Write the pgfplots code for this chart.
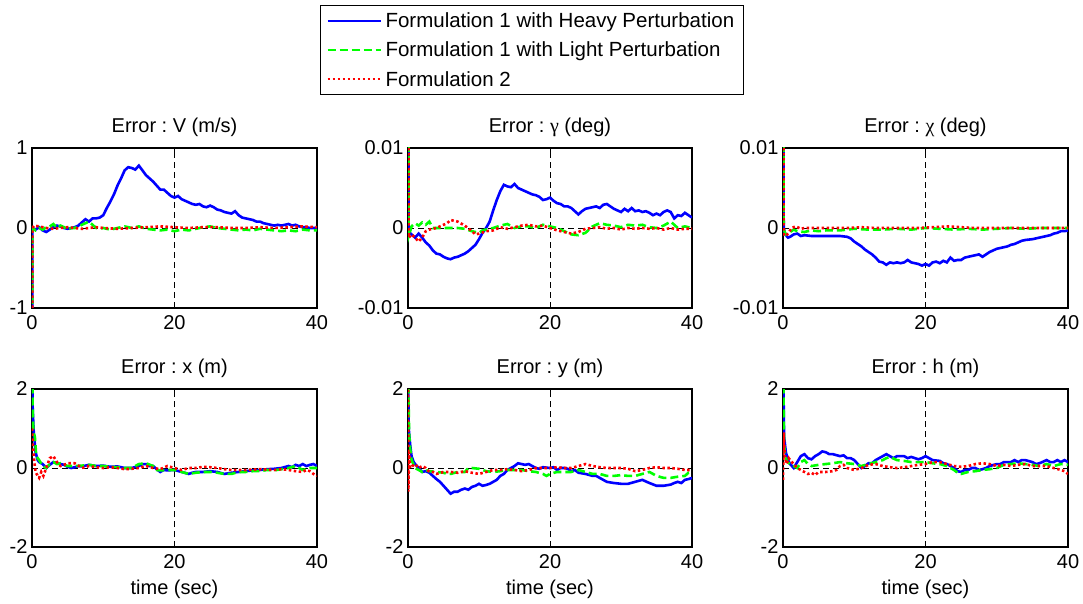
\documentclass[border=0pt]{standalone}
\usepackage{fontspec}
\setmainfont{Liberation Sans}
\newfontfamily\grk{Liberation Serif}
\usepackage{pgfplots}
\pgfplotsset{compat=1.18}
\frenchspacing
\definecolor{mblue}{RGB}{0,0,255}
\definecolor{mgreen}{RGB}{0,255,0}
\definecolor{mred}{RGB}{255,0,0}
\pgfplotsset{
  panel/.style={
    scale only axis, width=285pt, height=160pt, anchor=north west,
    xmin=0, xmax=40, xtick={0,20,40}, xticklabels={0,20,40},
    extra x ticks={20}, extra x tick labels={}, extra y ticks={0}, extra y tick labels={},
    extra tick style={grid=major, major tick length=0pt},
    major grid style={black, line width=0.6pt, dash pattern=on 6pt off 4pt},
    axis line style={black, line width=1.2pt},
    tick align=inside, major tick length=4pt, tick style={black, line width=0.6pt},
    /pgf/number format/assume math mode=true,
    ticklabel style={font=\fontsize{20}{22}\selectfont},
    xticklabel style={yshift=-4pt},
    yticklabel style={xshift=-1pt},
    title style={font=\fontsize{20}{22}\selectfont, at={(0.5,1)}, anchor=south, inner sep=0pt, yshift=5pt},
    label style={font=\fontsize{20}{22}\selectfont},
    xlabel style={yshift=-4pt},
    scaled y ticks=false,
  },
  hb/.style={mblue, solid, line width=2.6pt},
  lg/.style={mgreen, dash pattern=on 8pt off 4pt, line width=2.6pt},
  rd/.style={mred, dash pattern=on 2.5pt off 2.5pt, line width=2.6pt},
}
\begin{document}
\begin{tikzpicture}
\useasboundingbox (0,0) rectangle (1083pt,-604pt);
% ---------- V ----------
\begin{axis}[panel, at={(32pt,-148pt)}, ymin=-1, ymax=1, ytick={-1,0,1}, yticklabels={-1,0,1},
  title={Error : V (m/s)},
  legend style={at={(1.754,1.894)}, anchor=north, draw=black, line width=1.2pt,
    font=\fontsize{20.5}{22}\selectfont, inner xsep=6pt, inner ysep=5pt, row sep=9pt,
    column sep=1pt, nodes={inner xsep=3pt, inner ysep=2pt}},
  legend cell align=left,
  legend image code/.code={\draw[#1, line width=2pt] (0pt,0pt) -- (53pt,0pt);}]
\addplot[hb] coordinates {(0,-5)(0.05,0)(0.5,-0.02)(1,0.01)(1.5,-0.03)(2,-0.05)(2.5,-0.02)(3,0.01)(3.5,0.03)(4,0.02)(4.5,0.0)(5,-0.01)(5.5,0.0)(6,0.01)(6.5,0.03)(7,0.07)(7.5,0.11)(8,0.08)(8.5,0.12)(9,0.12)(9.5,0.13)(10,0.16)(10.5,0.25)(11,0.33)(11.5,0.42)(12,0.53)(12.5,0.62)(13,0.72)(13.5,0.76)(14,0.75)(14.5,0.73)(15,0.78)(15.5,0.72)(16,0.66)(16.5,0.62)(17,0.58)(17.5,0.53)(18,0.48)(18.5,0.48)(19,0.44)(19.5,0.40)(20,0.38)(20.5,0.40)(21,0.36)(21.5,0.34)(22,0.32)(22.5,0.30)(23,0.29)(23.5,0.30)(24,0.27)(24.5,0.26)(25,0.28)(25.5,0.26)(26,0.23)(26.5,0.22)(27,0.20)(27.5,0.19)(28,0.18)(28.5,0.21)(29,0.16)(29.5,0.13)(30,0.12)(30.5,0.11)(31,0.10)(31.5,0.08)(32,0.08)(32.5,0.06)(33,0.05)(33.5,0.04)(34,0.03)(34.5,0.04)(35,0.03)(35.5,0.04)(36,0.05)(36.5,0.03)(37,0.04)(37.5,0.02)(38,0.01)(38.5,0.01)(39,0.0)(40,0.0)};
\addlegendentry{Formulation 1 with Heavy Perturbation}
\addplot[lg] coordinates {(0,-5)(0.05,0)(0.5,-0.03)(1,0.0)(1.5,-0.02)(2,0.01)(2.5,0.02)(3,0.05)(3.5,0.0)(4,0.03)(4.5,0.01)(5,-0.02)(5.5,0.0)(6,0.0)(6.5,0.02)(7,0.04)(7.5,0.06)(8,0.08)(8.5,0.04)(9,0.0)(9.5,-0.01)(10,0.0)(11,-0.02)(12,0.0)(13,0.02)(14,0.0)(15,0.02)(16,-0.01)(17,-0.02)(18,-0.03)(19,-0.02)(20,-0.04)(21,-0.02)(22,-0.03)(23,-0.01)(24,0.01)(25,0.02)(26,0.0)(27,-0.01)(28,-0.02)(29,-0.03)(30,-0.02)(31,-0.03)(32,-0.01)(33,-0.02)(34,-0.03)(35,-0.04)(36,-0.03)(37,-0.04)(38,-0.02)(39,-0.03)(40,-0.03)};
\addlegendentry{Formulation 1 with Light Perturbation}
\addplot[rd] coordinates {(0,-5)(0.05,0.0)(0.3,0.03)(1,0.02)(2,0.0)(3,-0.01)(4,0.0)(5,0.01)(6,0.0)(7,-0.01)(8,0.0)(9,0.01)(10,0.0)(12,-0.01)(14,0.0)(16,0.01)(18,0.02)(20,0.01)(22,0.0)(24,0.01)(26,0.01)(28,0.0)(30,0.0)(32,0.01)(34,0.0)(36,0.01)(38,0.02)(40,0.01)};
\addlegendentry{Formulation 2}
\end{axis}
% ---------- gamma ----------
\begin{axis}[panel, at={(408pt,-148pt)}, width=284pt, ymin=-0.01, ymax=0.01, ytick={-0.01,0,0.01}, yticklabels={-0.01,0,0.01},
  title={Error : {\grk γ} (deg)}]
\addplot[hb] coordinates {(0,0.03)(0.1,-0.0005)(0.5,-0.0008)(1,-0.0012)(1.5,-0.0007)(2,-0.0012)(2.5,-0.0018)(3,-0.0022)(3.5,-0.0028)(4,-0.0032)(4.5,-0.0033)(5,-0.0036)(5.5,-0.0038)(6,-0.0039)(6.5,-0.0037)(7,-0.0036)(7.5,-0.0034)(8,-0.0032)(8.5,-0.0029)(9,-0.0025)(9.5,-0.0021)(10,-0.0014)(10.5,-0.0006)(11,0.0)(11.5,0.0008)(12,0.0022)(12.5,0.0035)(13,0.0046)(13.5,0.0054)(14,0.0052)(14.5,0.0051)(15,0.0055)(15.5,0.0050)(16,0.0048)(16.5,0.0046)(17,0.0044)(17.5,0.0042)(18,0.0041)(18.5,0.0039)(19,0.0035)(19.5,0.0036)(20,0.0038)(20.5,0.0034)(21,0.0031)(21.5,0.0030)(22,0.0027)(22.5,0.0027)(23,0.0025)(23.5,0.0021)(24,0.0017)(24.5,0.0021)(25,0.0024)(25.5,0.0025)(26,0.0026)(26.5,0.0027)(27,0.0025)(27.5,0.0029)(28,0.0030)(28.5,0.0027)(29,0.0024)(29.5,0.0022)(30,0.0020)(30.5,0.0024)(31,0.0021)(31.5,0.0025)(32,0.0021)(32.5,0.0022)(33,0.0020)(33.5,0.0021)(34,0.0019)(34.5,0.0016)(35,0.0018)(35.5,0.0016)(36,0.0020)(36.5,0.0022)(37,0.0020)(37.5,0.0012)(38,0.0016)(38.5,0.0015)(39,0.0019)(39.5,0.0016)(40,0.0013)};
\addplot[lg] coordinates {(0,0.03)(0.1,-0.001)(0.5,0.0002)(1,0.0006)(1.5,0.0003)(2,0.0007)(2.5,0.0004)(3,0.0008)(3.5,0.0)(4,0.0)(5,0.0)(6,0.0)(7,0.0)(8,-0.0001)(9,-0.0004)(10,-0.0006)(10.5,-0.0003)(11,-0.0002)(12,0.0)(13,0.0003)(14,0.0005)(15,0.0)(16,0.0002)(17,0.0002)(18,0.0)(19,0.0004)(20,0.0002)(21,0.0)(22,-0.0004)(23,-0.0008)(24,-0.0009)(25,-0.0006)(26,0.0002)(27,0.0006)(28,0.0004)(29,0.0003)(30,0.0001)(31,0.0004)(32,0.0003)(33,0.0004)(34,0.0001)(35,0.0)(36,0.0003)(37,0.0008)(38,0.0)(39,0.0002)(40,0.0)};
\addplot[rd] coordinates {(0,0.03)(0.1,-0.0012)(0.5,-0.0008)(1,-0.0012)(1.5,-0.0017)(2,-0.0012)(2.5,-0.0004)(3,-0.0002)(4,0.0)(5,0.0004)(5.5,0.0006)(6,0.0010)(6.5,0.0009)(7,0.0008)(8,0.0003)(9,-0.0004)(9.5,-0.0008)(10,-0.0007)(11,-0.0004)(12,-0.0003)(13,0.0001)(14,-0.0001)(15,0.0001)(16,0.0003)(17,0.0004)(18,0.0002)(19,0.0003)(20,0.0)(21,-0.0003)(22,-0.0005)(23,-0.0007)(24,-0.0005)(25,-0.0001)(26,0.0)(27,0.0001)(28,-0.0001)(29,0.0)(30,-0.0002)(31,0.0)(32,-0.0001)(33,0.0)(34,-0.0001)(35,0.0)(36,-0.0002)(37,0.0)(38,-0.0002)(39,-0.0001)(40,-0.0001)};
\end{axis}
% ---------- chi ----------
\begin{axis}[panel, at={(783pt,-148pt)}, ymin=-0.01, ymax=0.01, ytick={-0.01,0,0.01}, yticklabels={-0.01,0,0.01},
  title={Error : {\grk χ} (deg)}]
\addplot[hb] coordinates {(0,0.03)(0.1,0.0)(0.3,-0.0008)(0.7,-0.0012)(1,-0.0011)(1.5,-0.0008)(2,-0.0007)(2.5,-0.0010)(3,-0.0009)(4,-0.0010)(5,-0.0010)(6,-0.0010)(7,-0.0010)(8,-0.0010)(9,-0.0011)(9.5,-0.0013)(10,-0.0017)(10.5,-0.0020)(11,-0.0023)(11.5,-0.0027)(12,-0.0030)(12.5,-0.0033)(13,-0.0037)(13.5,-0.0042)(14,-0.0043)(14.5,-0.0046)(15,-0.0043)(15.5,-0.0044)(16,-0.0043)(16.5,-0.0044)(17,-0.0043)(17.5,-0.0040)(18,-0.0043)(18.5,-0.0044)(19,-0.0045)(19.5,-0.0047)(20,-0.0045)(20.5,-0.0047)(21,-0.0043)(21.5,-0.0042)(22,-0.0044)(22.5,-0.0041)(23,-0.0043)(23.5,-0.0037)(24,-0.0041)(24.5,-0.0040)(25,-0.0040)(25.5,-0.0037)(26,-0.0036)(26.5,-0.0035)(27,-0.0034)(27.5,-0.0033)(28,-0.0036)(28.5,-0.0033)(29,-0.0030)(29.5,-0.0028)(30,-0.0026)(30.5,-0.0025)(31,-0.0024)(31.5,-0.0023)(32,-0.0021)(32.5,-0.0020)(33,-0.0018)(33.5,-0.0016)(34,-0.0015)(35,-0.0014)(35.5,-0.0013)(36,-0.0012)(37,-0.0010)(37.5,-0.0009)(38,-0.0007)(38.5,-0.0006)(39,-0.0004)(39.5,-0.0004)(40,-0.0003)};
\addplot[lg] coordinates {(0,0.03)(0.1,-0.0002)(0.4,-0.0008)(1,-0.0005)(1.5,-0.0002)(2,-0.0004)(3,-0.0005)(4,-0.0003)(5,-0.0004)(6,-0.0003)(8,-0.0003)(10,-0.0001)(12,-0.0002)(14,-0.0002)(16,-0.0001)(18,-0.0002)(20,0.0)(22,-0.0001)(24,-0.0002)(26,-0.0001)(28,-0.0002)(30,-0.0001)(32,0.0)(34,-0.0001)(36,0.0)(38,0.0)(40,0.0)};
\addplot[rd] coordinates {(0,0.03)(0.1,-0.0008)(0.4,-0.0010)(0.8,-0.0006)(1.2,0.0)(1.8,0.0002)(2.5,-0.0001)(3,0.0)(5,0.0)(7,0.0)(9,0.0)(11,0.0001)(13,0.0)(15,0.0)(17,0.0)(19,0.0)(21,0.0001)(23,0.0002)(25,0.0001)(27,0.0)(29,0.0)(31,0.0)(33,0.0)(35,0.0)(37,0.0)(40,0.0)};
\end{axis}
% ---------- x ----------
\begin{axis}[panel, at={(32pt,-389pt)}, height=158pt, ymin=-2, ymax=2, ytick={-2,0,2}, yticklabels={-2,0,2},
  title={Error : x (m)}, xlabel={time (sec)}]
\addplot[hb] coordinates {(0,3)(0.1,1.5)(0.25,0.9)(0.5,0.4)(0.8,0.2)(1,0.15)(1.5,0.1)(2,0.0)(2.5,0.08)(3,0.15)(3.5,0.12)(4,0.1)(4.5,0.08)(5,0.03)(5.5,0.0)(6,0.02)(6.5,0.05)(7,0.04)(8,0.08)(9,0.05)(10,0.06)(11,0.03)(12,0.04)(13,0.0)(14,0.0)(15,0.05)(15.5,0.1)(16,0.1)(16.5,0.05)(17,0.05)(17.5,-0.03)(18,-0.1)(18.5,-0.05)(19,-0.06)(20,-0.05)(21,-0.1)(22,-0.15)(22.5,-0.12)(23,-0.1)(24,-0.1)(25,-0.08)(26,-0.1)(27,-0.15)(28,-0.12)(29,-0.1)(30,-0.08)(31,-0.06)(32,-0.05)(33,-0.03)(34,-0.02)(35,0.0)(36,0.05)(36.5,0.02)(37,0.08)(37.5,0.05)(38,0.1)(38.5,0.05)(39,0.08)(39.5,0.1)(40,0.05)};
\addplot[lg] coordinates {(0,3)(0.1,1.5)(0.2,0.9)(0.4,0.8)(0.6,0.3)(1,0.2)(1.5,0.05)(2,0.0)(2.5,0.1)(3,0.15)(3.5,0.1)(4,0.12)(5,0.05)(6,0.05)(7,0.06)(8,0.08)(9,0.05)(10,0.05)(11,0.03)(12,0.02)(13,0.0)(14,0.0)(15,0.1)(16,0.12)(17,0.05)(17.5,-0.05)(18,-0.06)(19,-0.05)(20,-0.05)(21,-0.1)(22,-0.15)(23,-0.12)(24,-0.1)(25,-0.1)(26,-0.12)(27,-0.15)(28,-0.15)(29,-0.1)(30,-0.1)(31,-0.08)(32,-0.08)(33,-0.05)(34,-0.06)(35,-0.03)(36,0.0)(37,0.05)(38,-0.05)(39,0.0)(40,0.0)};
\addplot[rd] coordinates {(0,1.0)(0.1,0.6)(0.3,0.2)(0.5,-0.1)(0.8,-0.2)(1,-0.25)(1.3,-0.1)(1.6,-0.2)(2,0.0)(2.5,0.25)(3,0.3)(3.5,0.15)(4,0.05)(4.5,0.08)(5,0.12)(6,0.12)(7,0.0)(8,0.05)(9,0.02)(10,0.0)(11,0.02)(12,0.0)(13,-0.03)(14,-0.02)(15,0.0)(16,0.05)(17,0.0)(18,-0.03)(19,0.05)(20,0.0)(21,-0.05)(22,0.0)(23,0.0)(24,0.03)(25,0.02)(26,0.0)(27,-0.03)(28,-0.05)(29,-0.05)(30,-0.05)(31,-0.04)(32,-0.03)(33,-0.04)(34,-0.05)(35,-0.03)(36,-0.05)(37,-0.08)(38,-0.1)(38.5,-0.05)(39,-0.08)(39.5,-0.15)(40,-0.2)};
\end{axis}
% ---------- y ----------
\begin{axis}[panel, at={(408pt,-389pt)}, width=284pt, height=158pt, ymin=-2, ymax=2, ytick={-2,0,2}, yticklabels={-2,0,2},
  title={Error : y (m)}, xlabel={time (sec)}]
\addplot[hb] coordinates {(0,3)(0.1,1.0)(0.3,0.6)(0.5,0.3)(0.8,0.15)(1,0.1)(1.5,0.0)(2,-0.1)(2.5,-0.08)(3,-0.12)(3.5,-0.2)(4,-0.28)(4.5,-0.35)(5,-0.45)(5.5,-0.55)(6,-0.65)(6.5,-0.6)(7,-0.6)(7.5,-0.55)(8,-0.52)(8.5,-0.55)(9,-0.48)(9.5,-0.45)(10,-0.4)(10.5,-0.45)(11,-0.43)(11.5,-0.4)(12,-0.35)(12.5,-0.3)(13,-0.2)(13.5,-0.15)(14,-0.05)(14.5,0.0)(15,0.05)(15.5,0.12)(16,0.1)(16.5,0.08)(17,0.1)(17.5,0.05)(18,0.0)(18.5,-0.02)(19,0.02)(20,0.0)(20.5,0.02)(21,-0.05)(21.5,0.0)(22,0.0)(22.5,-0.02)(23,-0.08)(23.5,-0.05)(24,-0.12)(25,-0.15)(26,-0.2)(26.5,-0.2)(27,-0.25)(27.5,-0.3)(28,-0.35)(29,-0.38)(30,-0.4)(31,-0.4)(32,-0.35)(33,-0.3)(34,-0.38)(35,-0.45)(36,-0.45)(37,-0.42)(37.5,-0.38)(38,-0.35)(38.5,-0.38)(39,-0.3)(39.5,-0.28)(40,-0.25)};
\addplot[lg] coordinates {(0,3)(0.15,0.9)(0.3,0.5)(0.5,0.2)(1,0.0)(1.5,-0.05)(2,-0.1)(2.5,-0.05)(3,-0.08)(4,-0.1)(5,-0.12)(5.5,-0.15)(6,-0.15)(7,-0.1)(8,-0.1)(8.5,0.0)(9,0.0)(10,-0.02)(11,-0.08)(12,-0.1)(13,-0.08)(14,-0.05)(15,-0.05)(16,-0.05)(17,-0.08)(18,-0.1)(19,-0.15)(19.5,-0.2)(20,-0.15)(21,-0.1)(22,-0.1)(23,-0.1)(24,-0.05)(25,-0.1)(26,-0.15)(27,-0.15)(28,-0.2)(29,-0.2)(30,-0.18)(31,-0.2)(32,-0.2)(33,-0.15)(34,-0.1)(35,-0.2)(36,-0.25)(37,-0.25)(38,-0.22)(39,-0.2)(39.5,-0.12)(40,-0.1)};
\addplot[rd] coordinates {(0,3)(0.05,-0.6)(0.15,0.4)(0.3,0.0)(0.6,0.05)(1,0.1)(1.5,0.0)(2,0.05)(2.5,0.0)(3,-0.1)(3.5,-0.1)(4,-0.15)(5,-0.1)(6,-0.1)(7,-0.12)(8,-0.08)(9,-0.12)(10,-0.15)(11,-0.1)(12,-0.05)(13,-0.05)(14,-0.03)(15,-0.05)(16,-0.08)(17,-0.05)(18,0.0)(19,0.0)(20,0.0)(21,0.02)(22,0.0)(23,0.0)(24,0.05)(25,0.1)(26,0.05)(27,0.02)(28,0.0)(29,0.0)(30,0.0)(31,-0.02)(32,-0.08)(33,-0.05)(34,0.0)(35,0.02)(36,0.0)(37,0.0)(38,-0.02)(39,-0.05)(40,-0.05)};
\end{axis}
% ---------- h ----------
\begin{axis}[panel, at={(783pt,-389pt)}, height=158pt, ymin=-2, ymax=2, ytick={-2,0,2}, yticklabels={-2,0,2},
  title={Error : h (m)}, xlabel={time (sec)}]
\addplot[hb] coordinates {(0,3)(0.15,0.8)(0.4,0.4)(0.7,0.2)(1,0.1)(1.5,0.0)(2,0.15)(2.5,0.3)(3,0.35)(3.5,0.25)(4,0.22)(4.5,0.3)(5,0.35)(5.5,0.42)(6,0.4)(6.5,0.35)(7,0.35)(8,0.3)(8.5,0.32)(9,0.25)(9.5,0.25)(10,0.2)(10.5,0.1)(11,0.0)(11.5,0.05)(12,0.12)(12.5,0.12)(13,0.2)(13.5,0.25)(14,0.3)(14.5,0.35)(15,0.3)(15.5,0.25)(16,0.3)(17,0.3)(17.5,0.25)(18,0.28)(19,0.22)(19.5,0.25)(20,0.3)(20.5,0.25)(21,0.2)(22,0.18)(22.5,0.12)(23,0.1)(23.5,0.05)(24,0.0)(24.5,-0.08)(25,-0.1)(25.5,-0.05)(26,-0.05)(26.5,0.0)(27,0.0)(27.5,-0.05)(28,-0.03)(28.5,0.0)(29,0.05)(30,0.1)(30.5,0.1)(31,0.15)(32,0.15)(32.5,0.2)(33,0.15)(33.5,0.2)(34,0.2)(35,0.15)(35.5,0.1)(36,0.12)(37,0.2)(37.5,0.15)(38,0.15)(38.5,0.2)(39,0.15)(39.5,0.2)(40,0.15)};
\addplot[lg] coordinates {(0,3)(0.15,0.6)(0.3,0.3)(0.6,0.15)(1,0.1)(1.5,0.05)(2,0.0)(2.5,0.15)(3,0.2)(3.5,0.1)(4,0.05)(5,0.08)(6,0.1)(7,0.12)(8,0.15)(9,0.12)(10,0.1)(11,0.05)(12,0.1)(13,0.15)(14,0.2)(14.5,0.25)(15,0.28)(16,0.2)(17,0.18)(18,0.15)(19,0.15)(20,0.15)(21,0.12)(22,0.1)(23,0.05)(24,-0.05)(24.5,-0.12)(25,-0.15)(26,-0.1)(27,-0.08)(28,-0.05)(29,-0.03)(30,0.0)(31,0.08)(32,0.1)(33,0.12)(34,0.1)(35,0.08)(36,0.05)(37,0.1)(38,0.05)(39,0.1)(40,0.08)};
\addplot[rd] coordinates {(0,-0.3)(0.1,0.9)(0.25,0.3)(0.5,0.1)(0.8,0.25)(1,0.2)(1.5,0.1)(2,0.0)(2.5,-0.05)(3,-0.1)(3.5,-0.15)(4,-0.12)(4.5,-0.18)(5,-0.1)(6,-0.1)(7,-0.08)(7.5,-0.05)(8,0.05)(8.5,0.08)(9,0.0)(10,-0.05)(11,0.0)(12,0.08)(13,0.1)(14,0.05)(15,0.02)(16,0.0)(17,0.02)(18,0.05)(19,0.08)(20,0.1)(21,0.15)(22,0.15)(23,0.1)(24,0.05)(25,0.03)(26,0.05)(27,0.1)(28,0.12)(29,0.1)(30,0.05)(31,0.08)(32,0.05)(33,0.08)(34,0.1)(35,0.05)(36,0.05)(37,0.05)(38,0.0)(39,-0.05)(39.5,-0.08)(40,-0.15)};
\end{axis}
\end{tikzpicture}
\end{document}
